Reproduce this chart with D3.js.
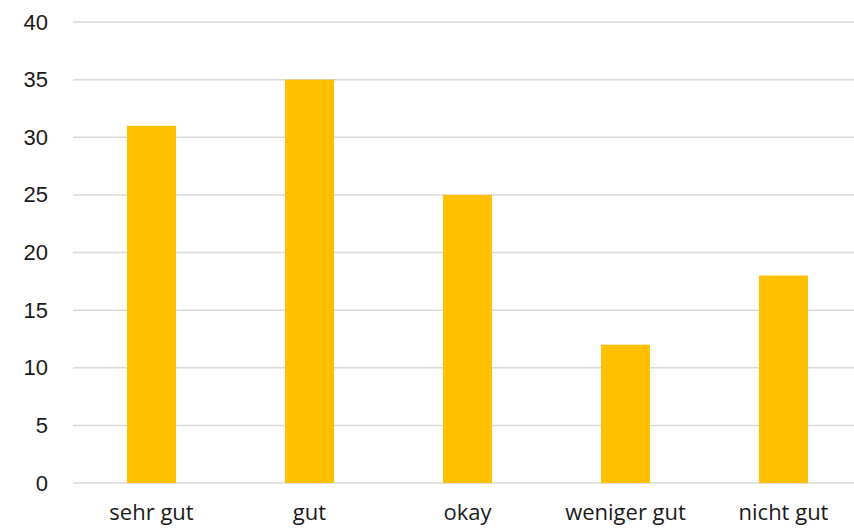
<!DOCTYPE html>
<html><head><meta charset="utf-8">
<script src="https://cdn.jsdelivr.net/npm/d3@7"></script>
<style>html,body{margin:0;padding:0;background:#fff;}</style>
</head><body>
<script>
const categories = ["sehr gut", "gut", "okay", "weniger gut", "nicht gut"];
const values = [31, 35, 25, 12, 18];
const yTicks = [0, 5, 10, 15, 20, 25, 30, 35, 40];

const W = 854, H = 531;
const svg = d3.select("body").append("svg").attr("width", W).attr("height", H);

const x = d3.scaleBand().domain(categories).range([72.5, 862.5]).paddingInner(0.69).paddingOuter(0.345);
const y = d3.scaleLinear().domain([0, 40]).range([483, 22]);

const grid = svg.append("g");
grid.selectAll("line").data(yTicks).join("line")
  .attr("x1", 73).attr("x2", W)
  .attr("y1", d => y(d)).attr("y2", d => y(d))
  .attr("stroke", "#d9d9d9").attr("stroke-width", 1.5);

const yAxis = svg.append("g").attr("transform", "translate(48,0)")
  .call(d3.axisLeft(y).tickValues(yTicks).tickSize(0).tickPadding(0));
yAxis.select(".domain").remove();
yAxis.selectAll("text").attr("font-family", "'Liberation Sans', Arial, sans-serif")
  .attr("font-size", 22).attr("fill", "#1a1a1a");

svg.append("g").selectAll("rect").data(values).join("rect")
  .attr("x", (d, i) => x(categories[i]))
  .attr("width", x.bandwidth())
  .attr("y", d => y(d))
  .attr("height", d => y(0) - y(d))
  .attr("fill", "#FFC000");

const xAxis = svg.append("g").attr("transform", "translate(0,483)")
  .call(d3.axisBottom(x).tickSize(0).tickPadding(21));
xAxis.select(".domain").remove();
xAxis.selectAll("text").attr("font-family", "'Open Sans', 'Noto Sans', sans-serif")
  .attr("font-size", 22).attr("fill", "#1a1a1a");
</script>
</body></html>
